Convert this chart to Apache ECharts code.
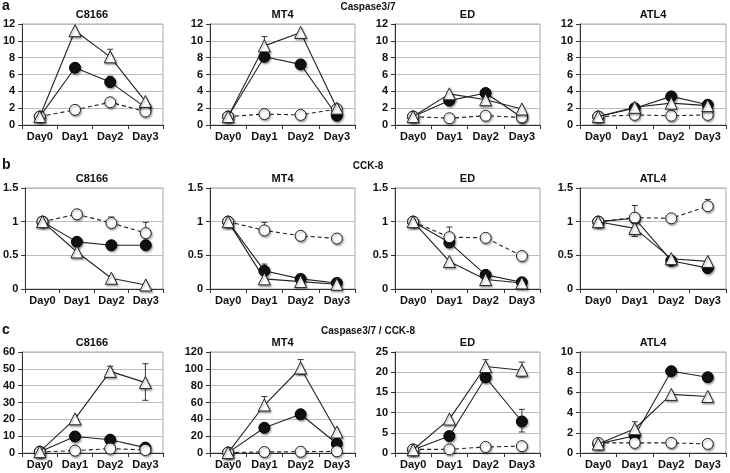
<!DOCTYPE html>
<html>
<head>
<meta charset="utf-8">
<script src="https://cdn.jsdelivr.net/npm/echarts@6/dist/echarts.min.js"></script>
<style>
html,body{margin:0;padding:0;background:#fff;}
#chart{width:730px;height:473px;}
</style>
</head>
<body>
<div id="chart"></div>
<script>
// ---- categories ----
const days = ['Day0', 'Day1', 'Day2', 'Day3'];
const cells = ['C8166', 'MT4', 'ED', 'ATL4'];
const sectionLetters = ['a', 'b', 'c'];
const sectionTitles = ['Caspase3/7', 'CCK-8', 'Caspase3/7 / CCK-8'];

// ---- row a: Caspase3/7 ----
const casp_C8166_fill = [1.0, 6.8, 5.1, 2.1];
const casp_C8166_open = [1.0, 1.8, 2.7, 1.6];
const casp_C8166_tri  = [1.0, 11.2, 8.1, 2.8];
const casp_MT4_fill = [1.0, 8.1, 7.2, 1.1];
const casp_MT4_open = [1.0, 1.3, 1.2, 1.9];
const casp_MT4_tri  = [1.0, 9.4, 11.0, 2.0];
const casp_ED_fill = [1.0, 2.9, 3.8, 0.9];
const casp_ED_open = [1.0, 0.8, 1.1, 0.9];
const casp_ED_tri  = [1.0, 3.7, 3.0, 1.9];
const casp_ATL4_fill = [1.0, 2.0, 3.4, 2.4];
const casp_ATL4_open = [1.0, 1.2, 1.1, 1.2];
const casp_ATL4_tri  = [1.0, 2.1, 2.6, 2.3];
// error bars: [day index, from, to]
const casp_C8166_err = [[2, 8.1, 9.0], [2, 5.1, 5.8]];
const casp_MT4_err = [[1, 9.4, 10.5]];
const casp_ED_err = [];
const casp_ATL4_err = [];

// ---- row b: CCK-8 ----
const cck_C8166_fill = [1.0, 0.70, 0.65, 0.65];
const cck_C8166_open = [1.0, 1.11, 0.98, 0.83];
const cck_C8166_tri  = [1.0, 0.55, 0.16, 0.06];
const cck_MT4_fill = [1.0, 0.27, 0.15, 0.09];
const cck_MT4_open = [1.0, 0.87, 0.79, 0.75];
const cck_MT4_tri  = [1.0, 0.15, 0.11, 0.07];
const cck_ED_fill = [1.0, 0.69, 0.21, 0.10];
const cck_ED_open = [1.0, 0.77, 0.76, 0.49];
const cck_ED_tri  = [1.0, 0.41, 0.14, 0.09];
const cck_ATL4_fill = [1.0, 1.05, 0.42, 0.31];
const cck_ATL4_open = [1.0, 1.06, 1.05, 1.23];
const cck_ATL4_tri  = [1.0, 0.90, 0.45, 0.41];
const cck_C8166_err = [[2, 0.98, 1.07], [3, 0.83, 0.99]];
const cck_MT4_err = [[1, 0.87, 0.99], [1, 0.27, 0.37]];
const cck_ED_err = [[1, 0.77, 0.92]];
const cck_ATL4_err = [[1, 1.06, 1.24], [1, 0.90, 0.78], [3, 1.23, 1.33]];

// ---- row c: Caspase3/7 / CCK-8 ----
const ratio_C8166_fill = [0.8, 9.8, 7.9, 3.2];
const ratio_C8166_open = [0.6, 1.4, 2.6, 1.8];
const ratio_C8166_tri  = [0.8, 20.3, 48.5, 41.8];
const ratio_MT4_fill = [0.5, 30, 46, 11];
const ratio_MT4_open = [0.5, 1.2, 1.5, 2.0];
const ratio_MT4_tri  = [0.5, 57, 101, 25];
const ratio_ED_fill = [0.8, 4.2, 18.7, 7.8];
const ratio_ED_open = [0.9, 0.9, 1.5, 1.7];
const ratio_ED_tri  = [0.8, 8.4, 21.4, 20.5];
const ratio_ATL4_fill = [0.9, 1.7, 8.1, 7.5];
const ratio_ATL4_open = [1.0, 1.0, 1.0, 0.9];
const ratio_ATL4_tri  = [0.9, 2.4, 5.8, 5.6];
const ratio_C8166_err = [[2, 48.5, 51.5], [3, 41.8, 53], [3, 41.8, 31.3]];
const ratio_MT4_err = [[1, 57, 67], [1, 57, 51], [2, 101, 111], [2, 101, 93]];
const ratio_ED_err = [[2, 21.4, 23.1], [3, 20.5, 22.5], [3, 20.5, 18.8], [3, 7.8, 10.8], [3, 7.8, 5.2]];
const ratio_ATL4_err = [[1, 2.4, 3.1]];

// ---- axis ranges ----
const yMax = [[12, 12, 12, 12], [1.5, 1.5, 1.5, 1.5], [60, 120, 25, 10]];
const yStep = [[2, 2, 2, 2], [0.5, 0.5, 0.5, 0.5], [10, 20, 5, 2]];

const panels = [
  [
    [casp_C8166_fill, casp_C8166_open, casp_C8166_tri, casp_C8166_err],
    [casp_MT4_fill, casp_MT4_open, casp_MT4_tri, casp_MT4_err],
    [casp_ED_fill, casp_ED_open, casp_ED_tri, casp_ED_err],
    [casp_ATL4_fill, casp_ATL4_open, casp_ATL4_tri, casp_ATL4_err]
  ],
  [
    [cck_C8166_fill, cck_C8166_open, cck_C8166_tri, cck_C8166_err],
    [cck_MT4_fill, cck_MT4_open, cck_MT4_tri, cck_MT4_err],
    [cck_ED_fill, cck_ED_open, cck_ED_tri, cck_ED_err],
    [cck_ATL4_fill, cck_ATL4_open, cck_ATL4_tri, cck_ATL4_err]
  ],
  [
    [ratio_C8166_fill, ratio_C8166_open, ratio_C8166_tri, ratio_C8166_err],
    [ratio_MT4_fill, ratio_MT4_open, ratio_MT4_tri, ratio_MT4_err],
    [ratio_ED_fill, ratio_ED_open, ratio_ED_tri, ratio_ED_err],
    [ratio_ATL4_fill, ratio_ATL4_open, ratio_ATL4_tri, ratio_ATL4_err]
  ]
];

// ---- layout ----
const FONT = '"Liberation Sans", Arial, sans-serif';
const gridLeft = [21, 210, 395, 580];
const gridWidth = [142, 145, 145, 146];
const gridTop = [24, 188, 352];
const gridHeight = 101;
const sectionY = [7, 166, 331];

const grids = [], xAxes = [], yAxes = [], series = [], graphics = [];
const shadow = { shadowColor: 'rgba(0,0,0,0.35)', shadowBlur: 2, shadowOffsetX: 1, shadowOffsetY: 1.5 };

for (let r = 0; r < 3; r++) {
  graphics.push({ type: 'text', left: 2, top: sectionY[r] - 8,
    style: { text: sectionLetters[r], font: 'bold 14px ' + FONT, fill: '#111' } });
  graphics.push({ type: 'text', x: 368, y: sectionY[r],
    style: { text: sectionTitles[r], font: 'bold 10px ' + FONT, fill: '#111', textAlign: 'center', textVerticalAlign: 'middle' } });
  for (let c = 0; c < 4; c++) {
    const gi = r * 4 + c;
    grids.push({ left: gridLeft[c], top: gridTop[r], width: gridWidth[c], height: gridHeight,
      show: true, borderColor: '#a8a8a8', borderWidth: 1, backgroundColor: 'transparent' });
    graphics.push({ type: 'text', x: gridLeft[c] + gridWidth[c] / 2, y: gridTop[r] - 9,
      style: { text: cells[c], font: 'bold 11px ' + FONT, fill: '#111', textAlign: 'center', textVerticalAlign: 'middle' } });
    xAxes.push({ type: 'category', gridIndex: gi, data: days, boundaryGap: true,
      axisLine: { lineStyle: { color: '#333', width: 1 } },
      axisTick: { show: true, length: 4, lineStyle: { color: '#333' } },
      axisLabel: { fontFamily: FONT, fontWeight: 'bold', fontSize: 11, color: '#111', margin: 6 },
      splitLine: { show: false } });
    yAxes.push({ type: 'value', gridIndex: gi, min: 0, max: yMax[r][c], interval: yStep[r][c],
      axisLine: { show: true, lineStyle: { color: '#333', width: 1 } },
      axisTick: { show: true, length: 4, lineStyle: { color: '#333' } },
      axisLabel: { fontFamily: FONT, fontWeight: 'bold', fontSize: 11, color: '#111', margin: 7 },
      splitLine: { show: true, lineStyle: { color: '#bdbdbd', width: 1 } } });

    const [fill, open, tri, err] = panels[r][c];
    series.push({ type: 'custom', xAxisIndex: gi, yAxisIndex: gi, z: 1,
      data: err, encode: { x: 0, y: [1, 2] },
      renderItem: function (params, api) {
        const p0 = api.coord([api.value(0), api.value(1)]);
        const p1 = api.coord([api.value(0), api.value(2)]);
        const st = { stroke: '#333', lineWidth: 1 };
        return { type: 'group', children: [
          { type: 'line', shape: { x1: p0[0], y1: p0[1], x2: p1[0], y2: p1[1] }, style: st },
          { type: 'line', shape: { x1: p1[0] - 3, y1: p1[1], x2: p1[0] + 3, y2: p1[1] }, style: st }
        ] };
      } });
    series.push({ type: 'line', xAxisIndex: gi, yAxisIndex: gi, data: fill, z: 3,
      symbol: 'circle', symbolSize: 11,
      lineStyle: { color: '#222', width: 1.1 },
      itemStyle: Object.assign({ color: '#111', borderColor: '#000', borderWidth: 1 }, shadow) });
    series.push({ type: 'line', xAxisIndex: gi, yAxisIndex: gi, data: open, z: 4,
      symbol: 'circle', symbolSize: 11,
      lineStyle: { color: '#222', width: 1.1, type: [4, 3] },
      itemStyle: Object.assign({ color: '#fff', borderColor: '#222', borderWidth: 1 }, shadow) });
    series.push({ type: 'line', xAxisIndex: gi, yAxisIndex: gi, data: tri, z: 5,
      symbol: 'triangle', symbolSize: 12,
      lineStyle: { color: '#222', width: 1.1 },
      itemStyle: Object.assign({ color: '#fff', borderColor: '#222', borderWidth: 1 }, shadow) });
  }
}

const chart = echarts.init(document.getElementById('chart'), null, { renderer: 'canvas' });
chart.setOption({
  animation: false,
  backgroundColor: '#fff',
  grid: grids,
  xAxis: xAxes,
  yAxis: yAxes,
  series: series,
  graphic: graphics
});
</script>
</body>
</html>
